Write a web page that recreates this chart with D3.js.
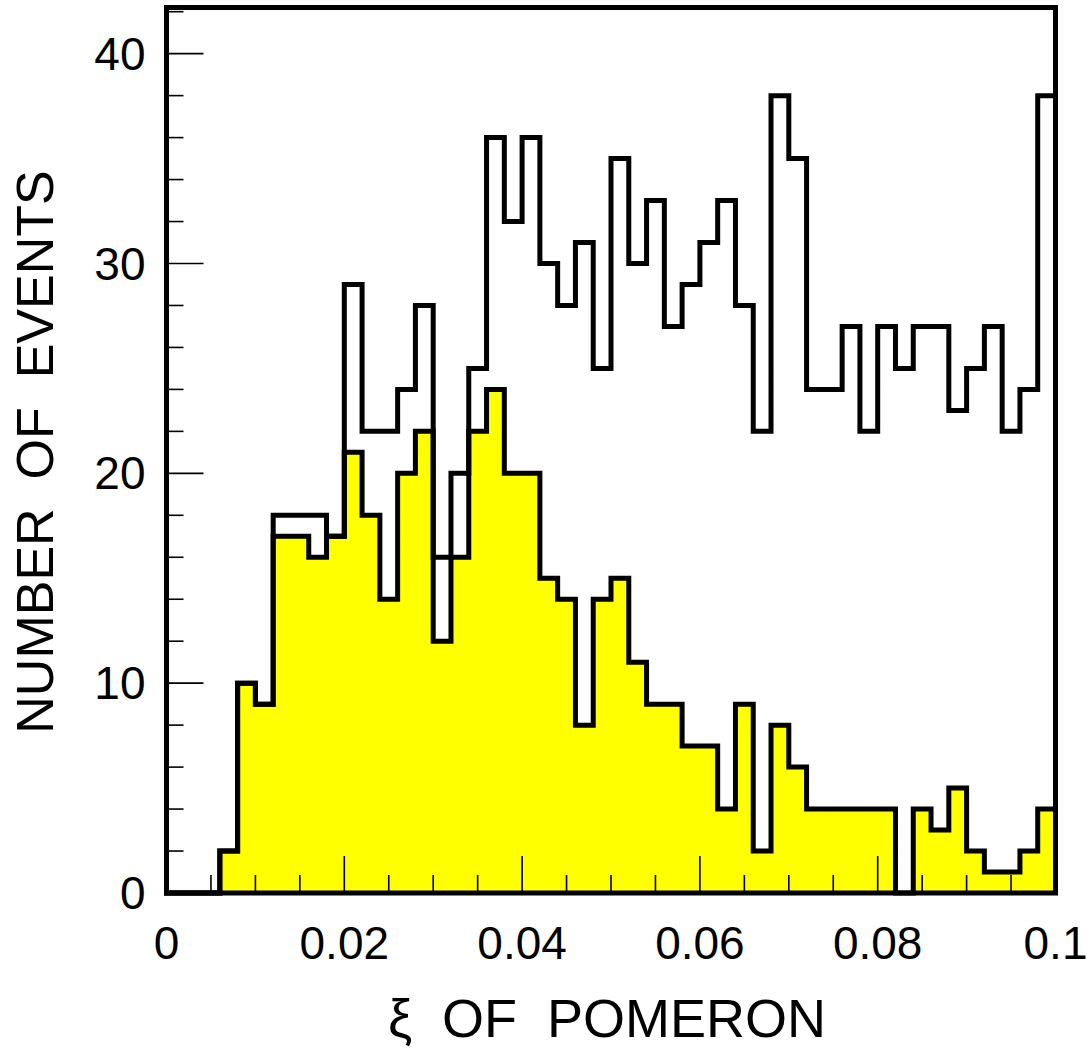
<!DOCTYPE html>
<html>
<head>
<meta charset="utf-8">
<script src="https://cdn.jsdelivr.net/npm/d3@7"></script>
<style>
  body { margin: 0; background: #fff; }
  svg text { font-family: "Liberation Sans", Arial, Helvetica, sans-serif; fill: #000; white-space: pre; }
</style>
</head>
<body>
<svg id="chart" width="1090" height="1053"></svg>
<script>
  // 50 bins of width 0.002 from 0 to 0.1
  const binEdges = d3.range(0, 50).map(i => i * 0.002)
  const binWidth = 0.002

  // all events (open histogram)
  const totalCounts = [0, 0, 0, 2, 10, 9, 18, 18, 18, 17,
                       29, 22, 22, 24, 28, 16, 20, 25, 36, 32,
                       36, 30, 28, 31, 25, 35, 30, 33, 27, 29,
                       31, 33, 28, 22, 38, 35, 24, 24, 27, 22,
                       27, 25, 27, 27, 23, 25, 27, 22, 24, 38]

  // selected events (yellow histogram)
  const selectedCounts = [0, 0, 0, 2, 10, 9, 17, 17, 16, 17,
                          21, 18, 14, 20, 22, 12, 16, 22, 24, 20,
                          20, 15, 14, 8, 14, 15, 11, 9, 9, 7,
                          7, 4, 9, 2, 8, 6, 4, 4, 4, 4,
                          4, 0, 4, 3, 5, 2, 1, 1, 2, 4]

  const xTickValues = [0, 0.02, 0.04, 0.06, 0.08, 0.1]
  const xTickLabels = ["0", "0.02", "0.04", "0.06", "0.08", "0.1"]
  const yTickValues = [0, 10, 20, 30, 40]
  const yTickLabels = ["0", "10", "20", "30", "40"]

  const xTitle = "\u03be  OF  POMERON"
  const yTitle = "NUMBER  OF  EVENTS"

  let svg = d3.select("#chart")

  let margin = { top: 7.5, right: 34.5, bottom: 160, left: 166.5 }
  let width = 1090, height = 1053
  let innerWidth = width - margin.left - margin.right
  let innerHeight = height - margin.top - margin.bottom

  let xScale = d3.scaleLinear().domain([0, 0.1]).range([0, innerWidth])
  let yScale = d3.scaleLinear().domain([0, 42.2]).range([innerHeight, 0])

  let g = svg.append("g").attr("transform", `translate(${margin.left}, ${margin.top})`)

  // step points: each bin start, plus closing point at the last edge
  const stepPoints = (counts) => {
    let pts = binEdges.map((x, i) => [x, counts[i]])
    pts.push([binEdges[binEdges.length - 1] + binWidth, counts[counts.length - 1]])
    return pts
  }

  let area = d3.area()
    .x(d => xScale(d[0]))
    .y0(yScale(0))
    .y1(d => yScale(d[1]))
    .curve(d3.curveStepAfter)

  let line = d3.line()
    .x(d => xScale(d[0]))
    .y(d => yScale(d[1]))
    .curve(d3.curveStepAfter)

  // yellow fill first
  g.append("path")
    .attr("d", area(stepPoints(selectedCounts)))
    .attr("fill", "#ffff00")
    .attr("stroke", "none")

  // ticks drawn inward on the left and bottom
  let xMinor = d3.range(0, 0.1 + 1e-9, 0.005)
  g.append("g").attr("class", "xTicks")
    .selectAll("line").data(xMinor).join("line")
    .attr("x1", d => xScale(d)).attr("x2", d => xScale(d))
    .attr("y1", innerHeight)
    .attr("y2", d => innerHeight - (Math.abs(d / 0.02 - Math.round(d / 0.02)) < 1e-6 ? 37 : 18))
    .attr("stroke", "#000").attr("stroke-width", 1.6)

  let yMinor = d3.range(0, 42.01, 2)
  g.append("g").attr("class", "yTicks")
    .selectAll("line").data(yMinor).join("line")
    .attr("y1", d => yScale(d)).attr("y2", d => yScale(d))
    .attr("x1", 0)
    .attr("x2", d => (d % 10 === 0 ? 37 : 17))
    .attr("stroke", "#000").attr("stroke-width", 1.6)

  // outlines
  g.append("path")
    .attr("d", line(stepPoints(selectedCounts)))
    .attr("fill", "none")
    .attr("stroke", "#000").attr("stroke-width", 5)
    .attr("stroke-linejoin", "miter").attr("stroke-linecap", "square")

  g.append("path")
    .attr("d", line(stepPoints(totalCounts)))
    .attr("fill", "none")
    .attr("stroke", "#000").attr("stroke-width", 5)
    .attr("stroke-linejoin", "miter").attr("stroke-linecap", "square")

  // frame
  g.append("rect")
    .attr("x", 0).attr("y", 0)
    .attr("width", innerWidth).attr("height", innerHeight)
    .attr("fill", "none")
    .attr("stroke", "#000").attr("stroke-width", 5)

  // tick labels
  g.append("g").selectAll("text").data(xTickValues).join("text")
    .attr("x", d => xScale(d))
    .attr("y", innerHeight + 66)
    .attr("text-anchor", "middle")
    .style("font-size", "46px")
    .text((d, i) => xTickLabels[i])

  g.append("g").selectAll("text").data(yTickValues).join("text")
    .attr("x", -21)
    .attr("y", d => yScale(d))
    .attr("dy", "0.35em")
    .attr("text-anchor", "end")
    .style("font-size", "46px")
    .text((d, i) => yTickLabels[i])

  // axis titles
  svg.append("text")
    .attr("x", 607).attr("y", 1037)
    .attr("text-anchor", "middle")
    .style("font-size", "54px")
    .text(xTitle)

  svg.append("text")
    .attr("transform", "translate(53, 452) rotate(-90)")
    .attr("text-anchor", "middle")
    .style("font-size", "52px")
    .text(yTitle)
</script>
</body>
</html>
